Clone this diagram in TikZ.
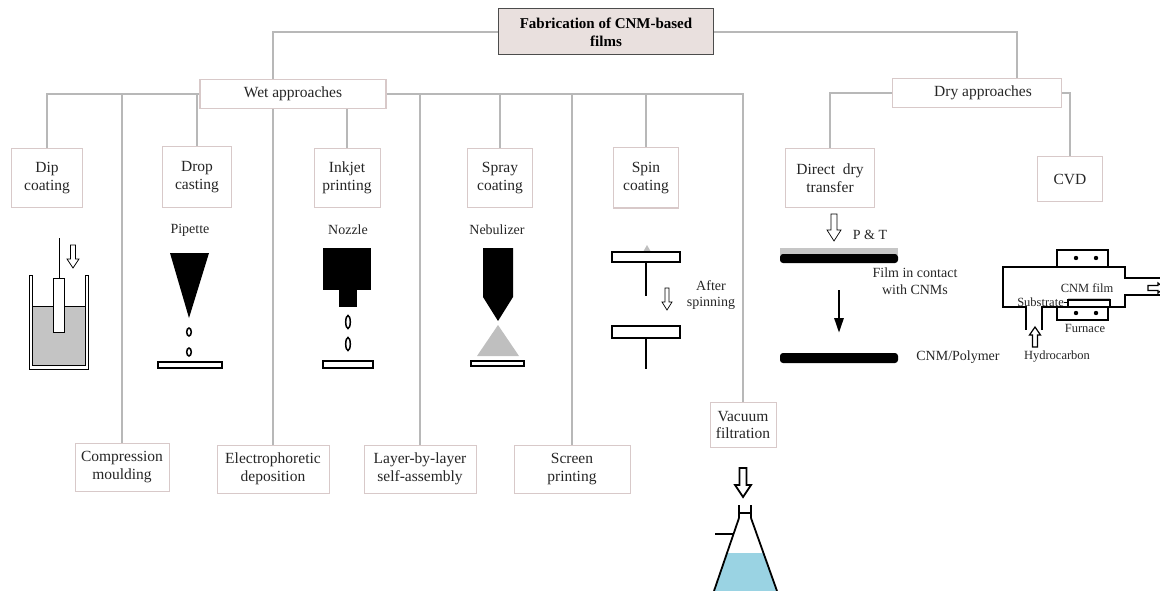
\documentclass[tikz,border=0pt]{standalone}
\usepackage{fontspec}
\setmainfont{Liberation Serif}
\usepackage{xcolor}
\usepackage{tikz}
\usetikzlibrary{arrows.meta, positioning, calc}

\definecolor{linegray}{HTML}{B8B8B8}
\definecolor{boxedge}{HTML}{D8C9C9}
\definecolor{titlefill}{HTML}{E9E0DE}
\definecolor{liquid}{HTML}{C4C4C4}
\definecolor{water}{HTML}{9AD3E3}
\definecolor{ink}{HTML}{262626}

\tikzset{
  pics/hollow/.style n args={4}{code={
    \draw[fill=white] (-#2,0) -- (-#2,{#1-#4}) -- (-#3,{#1-#4}) -- (0,#1)
      -- (#3,{#1-#4}) -- (#2,{#1-#4}) -- (#2,0) -- cycle;
  }}
}

\begin{document}
\begin{tikzpicture}[
    x=1pt, y=-1pt,
    title/.style={draw=black!70, fill=titlefill, line width=1pt, minimum width=215, minimum height=46,
                  inner sep=0, align=center, font=\bfseries\fontsize{15}{18}\selectfont},
    group/.style={draw=boxedge, fill=white, line width=1.3pt, minimum height=29, inner sep=0,
                  text=ink, font=\fontsize{15.5}{17}\selectfont},
    method/.style={draw=boxedge, fill=white, line width=1pt, inner sep=0, align=center,
                   text=ink, font=\fontsize{15.5}{17.5}\selectfont},
    lbl/.style={inner sep=0, align=center, text=ink, font=\fontsize{14}{16.5}\selectfont},
    small/.style={inner sep=0, text=ink, font=\fontsize{12.5}{14}\selectfont},
    conn/.style={draw=linegray, line width=1.3pt},
    drop/.style={draw, fill=white, line width=1.5pt}
]
\useasboundingbox (0,0) rectangle (1160,591);

% Top of the tree
\node[title] (fab) at (606,32) {Fabrication of CNM-based\\films};
\node[group, minimum width=186] (wet) at (293,94) {Wet approaches};
\node[group, minimum width=169] (dry) at (977,93) {\hspace{12pt}Dry approaches};

% Wet methods, upper row
\node[method, minimum width=71, minimum height=59] (dip) at (47,178) {Dip\\coating};
\node[method, minimum width=69, minimum height=61] (drop) at (197,177) {Drop\\casting};
\node[method, minimum width=66, minimum height=59] (inkjet) at (347,178) {Inkjet\\printing};
\node[method, minimum width=65, minimum height=59] (spray) at (500,178) {Spray\\coating};
\node[method, minimum width=65, minimum height=60] (spin) at (646,178) {Spin\\coating};

% Wet methods, lower row
\node[method, minimum width=94, minimum height=48] (comp) at (122,467) {Compression\\moulding};
\node[method, minimum width=112, minimum height=48] (electro) at (273,469) {Electrophoretic\\deposition};
\node[method, minimum width=112, minimum height=48] (layer) at (420,469) {Layer-by-layer\\self-assembly};
\node[method, minimum width=116, minimum height=48] (screen) at (572,469) {Screen\\printing};
\node[method, minimum width=66, minimum height=45] (vacuum) at (743,425) {Vacuum\\filtration};

% Dry methods
\node[method, minimum width=89, minimum height=59] (ddt) at (830,178) {Direct\ \ dry\\transfer};
\node[method, minimum width=65, minimum height=45] (cvd) at (1070,179) {CVD};

% Branches
\draw[conn] (fab.west) -| ([xshift=-20pt]wet.north);
\draw[conn] (fab.east) -| ([xshift=40pt]dry.north);
\draw[conn] (wet.west) -| (dip.north);
\draw[conn] (wet.west -| comp.north) -- (comp.north);
\draw[conn] (wet.west -| drop.north) -- (drop.north);
\draw[conn] (wet.south -| electro.north) -- (electro.north);
\draw[conn] (wet.south -| inkjet.north) -- (inkjet.north);
\draw[conn] (wet.east) -| (vacuum.north);
\draw[conn] (wet.east -| layer.north) -- (layer.north);
\draw[conn] (wet.east -| spray.north) -- (spray.north);
\draw[conn] (wet.east -| screen.north) -- (screen.north);
\draw[conn] (wet.east -| spin.north) -- (spin.north);
\draw[conn] (dry.west) -| (ddt.north);
\draw[conn] (dry.east) -| (cvd.north);

% Dip coating: beaker, liquid and plate
\filldraw[fill=white, line width=1pt] (29,275) -- (29,369) -- (88,369) -- (88,275) -- (85,275)
  -- (85,365) -- (32,365) -- (32,275) -- cycle;
\filldraw[fill=liquid, line width=1pt] (32,306) rectangle (85,365);
\filldraw[fill=white, line width=1pt] (53,278) rectangle (64,332);
\draw[line width=0.7pt] (59,238) -- (59,278);
\pic[line width=0.7pt] at (73,245) {hollow={23}{2.5}{6}{9}};

% Drop casting
\node[lbl] (pipette) at (190,230) {Pipette};
\fill (170,253) -- (209,253) -- (189,318) -- cycle;
\draw[drop] (189,332) ellipse (2.3 and 4);
\draw[drop] (189,352) ellipse (2.3 and 4);
\draw[line width=1.6pt] (158,362) rectangle (222,368);

% Inkjet printing
\node[lbl] (nozzle) at (348,230) {Nozzle};
\fill (323,248) rectangle (371,290);
\fill (339,289) rectangle (357,307);
\draw[drop] (348,322) ellipse (2.3 and 6.5);
\draw[drop] (348,344) ellipse (2.3 and 6.5);
\draw[line width=1.6pt] (323,361) rectangle (373,368);

% Spray coating
\node[lbl] (nebulizer) at (497,230) {Nebulizer};
\fill (483,248) -- (513,248) -- (513,297) -- (498,321) -- (483,297) -- cycle;
\fill[gray!50] (498,325) -- (519,356) -- (477,356) -- cycle;
\draw[line width=1.6pt] (471,361) rectangle (524,366);

% Spin coating
\fill[gray!50] (643,252) -- (651,252) -- (647,245) -- cycle;
\draw[line width=1.8pt] (612,252) rectangle (680,262);
\draw[line width=2pt] (646,262) -- (646,296);
\pic[line width=0.7pt] at (667,288) {hollow={22}{2}{5}{8}};
\node[lbl] (after) at (711,295) {After\\spinning};
\draw[line width=1.8pt] (612,326) rectangle (680,338);
\draw[line width=2pt] (646,338) -- (646,369);

% Direct dry transfer
\pic[line width=0.7pt] at (834,214) {hollow={27}{3}{7}{11}};
\node[lbl] (pt) at (870,235) {P \& T};
\fill[gray!45] (780,248) rectangle (898,255);
\fill[rounded corners=3pt] (780,254) rectangle (898,263);
\node[lbl] (contact) at (915,281) {Film in contact\\with CNMs};
\draw[line width=2.8pt, -{Triangle[width=9pt,length=15pt]}] (839,290) -- (839,333);
\fill[rounded corners=3pt] (780,353) rectangle (898,363);
\node[lbl] (polymer) at (958,357) {CNM/Polymer};

% CVD reactor
\draw[line width=1.5pt] (1160,278) -- (1125,278) -- (1125,267) -- (1003,267) -- (1003,307)
  -- (1026,307) -- (1026,330);
\draw[line width=1.5pt] (1042,330) -- (1042,307) -- (1125,307) -- (1125,295) -- (1160,295);
\draw[line width=1.5pt] (1057,250) rectangle (1108,267);
\draw[line width=1.5pt] (1057,307) rectangle (1108,320);
\foreach \cx in {1076,1096} {
  \fill (\cx,258) circle (2.2);
  \fill (\cx,313) circle (2.2);
}
\fill[gray!45] (1068,298) rectangle (1110,300);
\draw[line width=1.3pt] (1068,300) rectangle (1110,307);
\node[small] (film) at (1087,288) {CNM film};
\node[small, anchor=east] (substrate) at (1064,302) {Substrate};
\draw[line width=0.5pt] (substrate.east) -- (1068,302);
\node[small] (furnace) at (1085,328) {Furnace};
\pic[line width=1.2pt, rotate=180] at (1035,347) {hollow={20}{2.5}{5.5}{8}};
\node[small] (hydro) at (1057,357) {Hydrocarbon};
\pic[line width=1.2pt, rotate=90] at (1148,288) {hollow={16}{2.5}{5}{6}};

% Vacuum filtration flask
\pic[line width=1.8pt] at (743,468) {hollow={29}{3.5}{8}{12}};
\fill[water] (727,553) -- (763.5,553) -- (777,591) -- (714,591) -- cycle;
\draw[line width=1.8pt] (739,505) -- (739,518) (751,505) -- (751,518) (739,513) -- (751,513);
\draw[line width=1.8pt] (739,518) -- (714,591) (751,518) -- (777,591);
\draw[line width=1.8pt] (715,534) -- (733,534);
\end{tikzpicture}
\end{document}
